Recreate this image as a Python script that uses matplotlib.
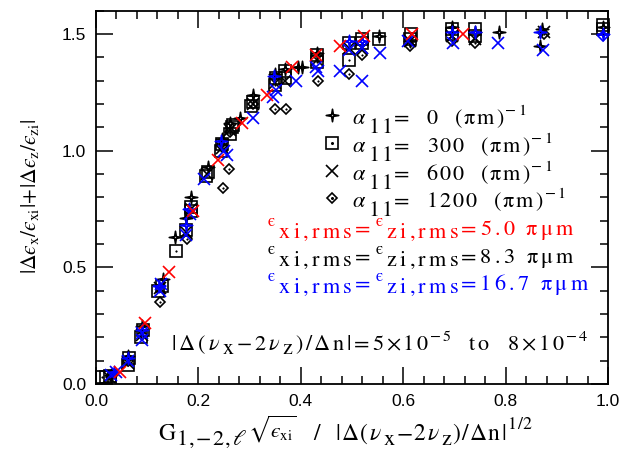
import re
import numpy as np
import matplotlib
matplotlib.use("Agg")
import matplotlib.pyplot as plt
from matplotlib.path import Path
from matplotlib.ticker import MultipleLocator
from matplotlib.transforms import offset_copy
from matplotlib.font_manager import FontProperties

plt.rcParams['mathtext.fontset'] = 'stix'
plt.rcParams['font.family'] = ['Liberation Sans', 'DejaVu Sans']

EPS = '\u03f5'

# ---------------- data ----------------
# alpha11 = 300 (pi m)^-1, eps = 8.3 pi um (black squares)
sq_k_x = [0.012, 0.020, 0.028, 0.063, 0.065, 0.088, 0.092, 0.122, 0.128, 0.156, 0.176, 0.185, 0.185,
          0.215, 0.218, 0.244, 0.246, 0.262, 0.265, 0.268, 0.303, 0.307, 0.350, 0.352, 0.369, 0.370,
          0.431, 0.431, 0.494, 0.494, 0.520, 0.520, 0.553, 0.613, 0.615, 0.695, 0.695, 0.740, 0.740,
          0.990, 0.990]
sq_k_y = [0.03, 0.03, 0.035, 0.08, 0.11, 0.20, 0.23, 0.40, 0.42, 0.57, 0.66, 0.76, 0.74,
          0.89, 0.91, 1.00, 1.03, 1.07, 1.10, 1.11, 1.19, 1.21, 1.28, 1.31, 1.31, 1.34,
          1.38, 1.41, 1.46, 1.39, 1.46, 1.48, 1.48, 1.48, 1.50, 1.50, 1.52, 1.49, 1.52,
          1.54, 1.52]

# alpha11 = 0 (black stars)
st_k_x = [0.030, 0.063, 0.090, 0.130, 0.154, 0.176, 0.186, 0.218, 0.246, 0.262, 0.281, 0.307, 0.350,
          0.369, 0.395, 0.402, 0.431, 0.553, 0.613, 0.695, 0.740, 0.787, 0.871, 0.867, 0.990]
st_k_y = [0.04, 0.12, 0.25, 0.45, 0.63, 0.71, 0.80, 0.93, 1.05, 1.12, 1.14, 1.24, 1.33,
          1.35, 1.36, 1.36, 1.42, 1.49, 1.47, 1.53, 1.51, 1.51, 1.52, 1.45, 1.53]

# alpha11 = 600 (black crosses)
xm_k_x = [0.025, 0.063, 0.090, 0.125, 0.176, 0.185, 0.217, 0.246, 0.262, 0.307, 0.350, 0.369, 0.431,
          0.494, 0.520, 0.613, 0.695, 0.740, 0.875]
xm_k_y = [0.03, 0.09, 0.21, 0.41, 0.65, 0.75, 0.90, 1.01, 1.09, 1.20, 1.29, 1.30, 1.39,
          1.44, 1.44, 1.47, 1.49, 1.48, 1.51]

# alpha11 = 1200 (black diamonds)
dm_k_x = [0.030, 0.063, 0.090, 0.125, 0.178, 0.248, 0.260, 0.246, 0.262, 0.307, 0.350, 0.371, 0.433,
          0.494, 0.520, 0.613, 0.695, 0.740, 0.875]
dm_k_y = [0.035, 0.10, 0.21, 0.35, 0.62, 0.84, 0.92, 1.02, 1.08, 1.20, 1.18, 1.18, 1.30,
          1.33, 1.41, 1.45, 1.47, 1.46, 1.50]

# eps = 5.0 pi um (red)
xm_r_x = [0.047, 0.096, 0.143, 0.190, 0.238, 0.285, 0.334, 0.383, 0.430, 0.477, 0.523, 0.618, 0.717]
xm_r_y = [0.05, 0.26, 0.48, 0.74, 0.96, 1.12, 1.24, 1.36, 1.41, 1.45, 1.49, 1.50, 1.50]

# eps = 16.7 pi um (blue)
xm_b_x = [0.030, 0.040, 0.063, 0.090, 0.090, 0.125, 0.127, 0.176, 0.183, 0.210, 0.250, 0.255, 0.307,
          0.346, 0.352, 0.390, 0.433, 0.430, 0.477, 0.494, 0.520, 0.520, 0.555, 0.610, 0.697, 0.785,
          0.873]
xm_b_y = [0.04, 0.05, 0.10, 0.19, 0.22, 0.40, 0.43, 0.64, 0.73, 0.88, 1.00, 0.98, 1.14,
          1.23, 1.26, 1.30, 1.34, 1.36, 1.34, 1.43, 1.44, 1.30, 1.42, 1.47, 1.46, 1.46,
          1.43]
st_b_x = [0.035, 0.063, 0.090, 0.124, 0.176, 0.182, 0.244, 0.348, 0.494, 0.520, 0.695, 0.740, 0.868, 0.990]
st_b_y = [0.05, 0.11, 0.23, 0.42, 0.68, 0.75, 1.04, 1.32, 1.47, 1.47, 1.51, 1.51, 1.51, 1.50]
dm_b_x = [0.990]
dm_b_y = [1.49]

alpha_values = ['0', '300', '600', '1200']
eps_values = ['5.0', '8.3', '16.7']
eps_colors = ['red', 'black', 'blue']
tune_lo, tune_hi = ('5', '\u22125'), ('8', '\u22124')

# ---------------- helpers ----------------
fig = plt.figure(figsize=(6.41, 4.53), dpi=100)
ax = fig.add_axes([96 / 641, 69 / 453, 512 / 641, 373.2 / 453])
renderer = fig.canvas.get_renderer()


def _adv(tok, fs):
    """advance width of one token in points"""
    fp = FontProperties(family='STIXGeneral', size=fs)
    if tok == ' ':
        return 0.25 * fs
    if tok.startswith('$'):
        w = renderer.get_text_width_height_descent(tok, fp, ismath=True)[0]
    else:
        w1 = renderer.get_text_width_height_descent('|' + tok + '|', fp, ismath=False)[0]
        w0 = renderer.get_text_width_height_descent('||', fp, ismath=False)[0]
        w = w1 - w0
    return w * 72.0 / fig.dpi


def rich(x, y, segs, size, color='black', track=0.0, base=None, target=None):
    """SM-style text: segs = [(text, scale, dy_in_em), ...] drawn token by token."""
    base = ax.transAxes if base is None else base
    target = ax if target is None else target
    dx = 0.0
    for s, sc, dy in segs:
        fs = size * sc
        for tok in re.findall(r'\$[^$]*\$|.', s):
            if tok != ' ':
                tr = offset_copy(base, fig=fig, x=dx, y=dy * size, units='points')
                target.text(x, y, tok, transform=tr, fontsize=fs, family='STIXGeneral',
                            color=color, va='baseline', ha='left')
            dx += _adv(tok, fs) + track * sc


# ---------------- markers ----------------
ang = np.deg2rad(np.arange(8) * 45 + 90)
rad = np.where(np.arange(8) % 2 == 0, 1.0, 0.2)
star_verts = np.column_stack([rad * np.cos(ang), rad * np.sin(ang)])
star_verts = np.vstack([star_verts, star_verts[:1]])
STAR = Path(star_verts, closed=True)

MEW = 1.2


def pts(x, y, marker, color, ms, dot=False, z=3):
    ax.plot(x, y, linestyle='none', marker=marker, ms=ms, mfc='none', mec=color, mew=MEW,
            zorder=z, clip_on=False)
    if dot:
        ax.plot(x, y, linestyle='none', marker='o', ms=1.2, mfc=color, mec=color, mew=0.3,
                zorder=z, clip_on=False)


pts(sq_k_x, sq_k_y, 's', 'black', 8.5, dot=True)
pts(dm_k_x, dm_k_y, 'D', 'black', 5.2, dot=True)
pts(xm_k_x, xm_k_y, 'x', 'black', 8.5)
pts(st_k_x, st_k_y, STAR, 'black', 9)
pts(xm_b_x, xm_b_y, 'x', 'blue', 9, z=4)
pts(st_b_x, st_b_y, STAR, 'blue', 9, z=4)
pts(dm_b_x, dm_b_y, 'D', 'blue', 5.2, dot=True, z=4)
pts(xm_r_x, xm_r_y, 'x', 'red', 9, z=5)

ax.set_xlim(0, 1.0)
ax.set_ylim(0, 1.6)
ax.xaxis.set_major_locator(MultipleLocator(0.2))
ax.xaxis.set_minor_locator(MultipleLocator(0.04))
ax.yaxis.set_major_locator(MultipleLocator(0.5))
ax.yaxis.set_minor_locator(MultipleLocator(0.1))
ax.tick_params(which='both', direction='in', top=True, right=True, width=1.1)
ax.tick_params(which='major', length=12, labelsize=12.5, pad=7)
ax.tick_params(which='minor', length=5.5)
for s in ax.spines.values():
    s.set_linewidth(1.3)

# ---------------- legend (manual, SM style) ----------------
leg_markers = [(STAR, 9, False), ('s', 8.5, True), ('x', 8.5, False), ('D', 5.2, True)]
leg_base = [0.697, 0.622, 0.547, 0.474]
LS = 16
for (m, ms, dot), yb, val in zip(leg_markers, leg_base, alpha_values):
    ym = yb + 0.024
    ax.plot([0.461], [ym], transform=ax.transAxes, linestyle='none', marker=m, ms=ms,
            mfc='none', mec='black', mew=MEW, clip_on=False)
    if dot:
        ax.plot([0.461], [ym], transform=ax.transAxes, linestyle='none', marker='o', ms=1.2,
                color='black', clip_on=False)
    rich(0.5, yb, [(r'$\alpha$', 1, 0), ('11', 1, -0.42), ('=  ' + val + '  (\u03c0m)', 1, 0),
                   ('\u22121', 0.72, 0.4)], LS, track=1.4)

for val, col, yb in zip(eps_values, eps_colors, [0.399, 0.324, 0.252]):
    rich(0.336, yb, [(EPS, 0.75, 0.4), (' ', 0.15, 0), ('xi,rms', 1, -0.15), ('=', 1, 0), (' ', 0.25, 0),
                     (EPS, 0.75, 0.4), (' ', 0.15, 0), ('zi,rms', 1, -0.15),
                     ('=' + val + ' \u03c0\u03bcm', 1, 0)],
         LS, color=col, track=2.35)

rich(0.148, 0.091, [('|\u0394(', 1, 0), (r'$\nu$', 1, 0), ('x', 1, -0.2), ('\u22122', 1, 0),
                    (r'$\nu$', 1, 0), ('z', 1, -0.2), (')/\u0394n|=' + tune_lo[0] + '\u00d710', 1, 0),
                    (tune_lo[1], 0.72, 0.42), ('  to  ' + tune_hi[0] + '\u00d710', 1, 0),
                    (tune_hi[1], 0.72, 0.42)], LS, track=1.9)

# axis labels
fig.text(30 / 641, 0.566,
         r'$|\Delta' + EPS + r'_{\mathrm{x}}/' + EPS + r'_{\mathrm{xi}}|\!+\!|\Delta' + EPS + r'_{\mathrm{z}}/' + EPS + r'_{\mathrm{zi}}|$',
         rotation=90, fontsize=15.5, ha='center', va='center')
rich(158 / 641, (453 - 440) / 453,
     [('G', 1, 0), ('1,\u22122,', 0.95, -0.2), (r'$\ell$', 0.95, -0.2),
      (r'$\sqrt{' + EPS + r'_{\mathrm{xi}}}$', 0.9, 0.1), ('  /  |\u0394(', 1, 0), (r'$\nu$', 1, 0),
      ('x', 0.95, -0.2), ('\u22122', 1, 0), (r'$\nu$', 1, 0), ('z', 0.95, -0.2),
      (')/\u0394n|', 1, 0), ('1/2', 0.75, 0.45)],
     17, track=1.0, base=fig.transFigure, target=fig)

fig.savefig('out.png', dpi=100)
